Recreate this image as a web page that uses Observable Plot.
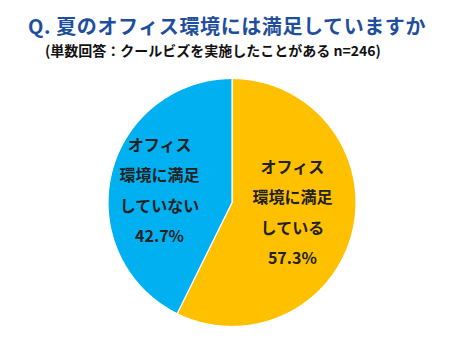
<!DOCTYPE html>
<html><head><meta charset="utf-8">
<script src="https://cdn.jsdelivr.net/npm/d3@7"></script>
<script src="https://cdn.jsdelivr.net/npm/@observablehq/plot@0.6"></script>
<style>
body{margin:0;background:#fff;font-family:"Noto Sans CJK JP","Noto Sans",sans-serif;}
#title{margin:11px 0 0 28px;height:30px;line-height:30px;font-size:20px;font-weight:bold;color:#1f4e9c;white-space:nowrap;letter-spacing:0.6px;}
#sub{margin:-1px 0 0 45px;height:20px;line-height:20px;font-size:14px;font-weight:bold;color:#111;white-space:nowrap;}
</style></head>
<body>
<div id="title">Q.&nbsp;夏のオフィス環境には満足していますか</div>
<div id="sub">(単数回答：クールビズを実施したことがある n=246)</div>
<div id="chart"></div>
<script>
const categories = ["オフィス\n環境に満足\nしている", "オフィス\n環境に満足\nしていない"];
const values = [57.3, 42.7];
const colors = ["#ffc000", "#00b0f0"];

const arcs = d3.pie().sort(null)(values);
const pts = [];
arcs.forEach((a, i) => {
  pts.push({k: i, x: 0, y: 0});
  const n = 240;
  for (let j = 0; j <= n; j++) {
    const t = a.startAngle + (a.endAngle - a.startAngle) * j / n;
    pts.push({k: i, x: Math.sin(t), y: Math.cos(t)});
  }
  pts.push({k: i, x: 0, y: 0});
});
const labelR = [0.5, 0.6];
const labels = arcs.map((a, i) => {
  const m = (a.startAngle + a.endAngle) / 2;
  return {i, x: labelR[i] * Math.sin(m), y: labelR[i] * Math.cos(m), text: categories[i] + "\n" + values[i].toFixed(1) + "%"};
});

const cx = 231.5, cy = 142, r = 124;
const textOpts = {x: "x", y: "y", text: "text", fontSize: 16, fontWeight: "bold", fill: "#222", lineHeight: 1.9, fontFamily: "Noto Sans CJK JP"};
const chart = Plot.plot({
  width: 463, height: 292,
  margin: 0,
  x: {domain: [-1, 1], range: [cx - r, cx + r], axis: null},
  y: {domain: [-1, 1], range: [cy + r, cy - r], axis: null},
  color: {domain: [0, 1], range: colors},
  marks: [
    Plot.line(pts, {x: "x", y: "y", z: "k", fill: d => d.k, stroke: "#fff", strokeWidth: 1.2, curve: "linear"}),
    Plot.text(labels.filter(d => d.i === 0), {...textOpts, dy: -8}),
    Plot.text(labels.filter(d => d.i === 1), {...textOpts, dy: 1})
  ]
});
document.getElementById("chart").appendChild(chart);
</script>
</body></html>
